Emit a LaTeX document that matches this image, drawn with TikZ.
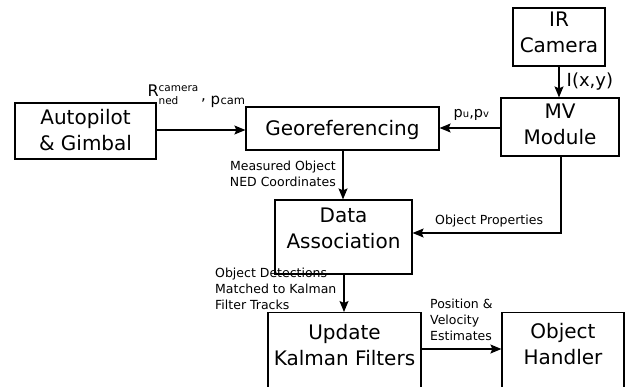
\documentclass[tikz,border=0pt]{standalone}
\usepackage{fontspec}
\setmainfont{DejaVu Sans}
\usetikzlibrary{arrows.meta}
\begin{document}
\begin{tikzpicture}[x=1pt,y=-1pt,
  box/.style={draw, line width=1.2pt, inner sep=0pt},
  boxtxt/.style={inner sep=0pt, align=center, font=\fontsize{20}{26}\selectfont},
  lbl/.style={inner sep=0pt, font=\fontsize{12.5}{16}\selectfont},
  txt/.style={inner sep=0pt, anchor=base west},
  conn/.style={line width=1.2pt, -{Stealth[length=11pt,width=9pt,inset=2pt]}}]
\useasboundingbox (0,0) rectangle (628,387);
\clip (0,0) rectangle (628,387);
% boxes
\node[box, minimum width=141pt, minimum height=56pt] (auto) at (85.5,131) {};
\node[boxtxt] (autot) at (85.5,130.4) {Autopilot\\\& Gimbal};
\node[box, minimum width=193pt, minimum height=43pt] (geo) at (342.5,128.5) {};
\node[boxtxt] (geot) at (342.5,129.7) {Georeferencing};
\node[box, minimum width=92pt, minimum height=58pt] (ir) at (559,37) {};
\node[boxtxt] (irt) at (559,32.7) {IR\\Camera};
\node[box, minimum width=118pt, minimum height=58pt] (mv) at (560,127) {};
\node[boxtxt] (mvt) at (560,124.7) {MV\\Module};
\node[box, minimum width=137pt, minimum height=74pt] (da) at (343.5,237) {};
\node[boxtxt] (dat) at (343.5,228.2) {Data\\Association};
\node[box, minimum width=153pt, minimum height=100pt, anchor=north] (ukf) at (344.5,312) {};
\node[boxtxt] (ukft) at (344.5,345) {Update\\Kalman Filters};
\node[box, minimum width=122pt, minimum height=100pt, anchor=north] (oh) at (563,312) {};
\node[boxtxt] (oht) at (563,344.5) {Object\\Handler};
% connectors
\draw[conn] (auto.east |- 0,130) -- (geo.west |- 0,130);
\draw[conn] (mv.west |- 0,128) -- (geo.east |- 0,128);
\draw[conn] (ir.south) -- (ir.south |- mv.north);
\coordinate (mvturn) at (561,233);
\draw[conn] (mv.south -| mvturn) -- (mvturn) -- (mvturn -| da.east);
\draw[conn] (geo.south -| 343,0) -- (da.north -| 343,0);
\draw[conn] (da.south -| 344,0) -- (ukf.north -| 344,0);
\draw[conn] (ukf.east |- 0,349) -- (oh.west |- 0,349);
% labels
\node[txt, font=\fontsize{16}{16}\selectfont] (rl) at (147.3,96.5)
  {R\rlap{\fontsize{10.5}{10.5}\selectfont\raisebox{5.2pt}{camera}}\raisebox{-8.3pt}{\fontsize{10.5}{10.5}\selectfont ned}};
\node[txt, font=\fontsize{15}{16}\selectfont] (comma) at (201,101) {,};
\node[txt, font=\fontsize{15}{16}\selectfont] (pl) at (210.5,104.5) {p};
\node[txt, font=\fontsize{11.5}{12}\selectfont] (pcam) at (220.3,104.5) {cam};
\node[txt, font=\fontsize{14.5}{14}\selectfont] (puv) at (453.5,117.5)
  {p{\fontsize{10}{10}\selectfont u},p{\fontsize{10}{10}\selectfont v}};
\node[txt, font=\fontsize{18}{18}\selectfont] (ixy) at (566.5,86.5) {I(x,y)};
\node[lbl, align=right, anchor=east] (meas) at (336,174.25) {Measured Object\\NED Coordinates};
\node[lbl, anchor=base west] (oprop) at (435,225) {Object Properties};
\node[lbl, align=left, anchor=west] (odet) at (215,289.25) {Object Detections\\Matched to Kalman\\Filter Tracks};
\node[lbl, align=left, anchor=west] (pve) at (430,320.25) {Position \&\\Velocity\\Estimates};
\end{tikzpicture}
\end{document}
